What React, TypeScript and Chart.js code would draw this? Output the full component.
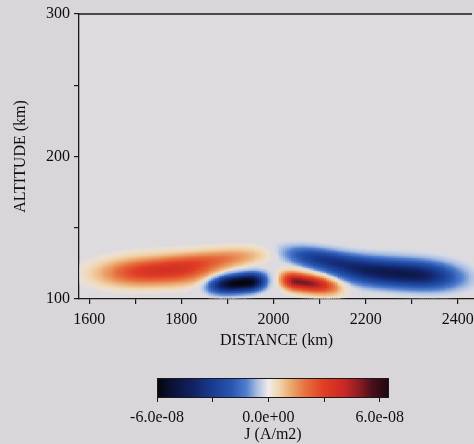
import React, { useEffect, useRef } from 'react';
import { Chart, registerables } from 'chart.js';

Chart.register(...registerables);

// ---- axes ----
const X_RANGE = [1578, 2435];
const Y_RANGE = [100, 300];
const X_TICKS = [1600, 1700, 1800, 1900, 2000, 2100, 2200, 2300, 2400];
const X_LABELED = [1600, 1800, 2000, 2200, 2400];
const Y_TICKS = [100, 150, 200, 250, 300];
const Y_LABELED = [100, 200, 300];
const X_TITLE = 'DISTANCE (km)';
const Y_TITLE = 'ALTITUDE (km)';

// ---- colour bar ----
const CBAR_RANGE = [-6.0e-8, 6.5e-8];
const CBAR_TICKS = [-6e-8, -3e-8, 0, 3e-8, 6e-8];
const CBAR_LABELS = ['-6.0e-08', '', '0.0e+00', '', '6.0e-08'];
const CBAR_TITLE = 'J (A/m2)';

// colour map stops (value in A/m2) and colours
const CMAP_VALUES = [-6.0e-8, -5.0e-8, -4.0e-8, -3.0e-8, -2.0e-8, -1.2e-8, -0.6e-8, 0, 0.6e-8, 1.2e-8, 2.0e-8, 3.0e-8, 4.0e-8, 4.8e-8, 5.6e-8, 6.5e-8];
const CMAP_COLORS = [
  [5, 5, 12], [12, 20, 62], [18, 35, 102], [25, 60, 145], [40, 85, 175], [80, 125, 205], [170, 190, 225],
  [240, 236, 235],
  [240, 212, 172], [236, 168, 112], [230, 112, 62], [224, 62, 36], [204, 42, 36], [150, 30, 36], [72, 16, 26], [30, 6, 16],
];

// ---- current-density patches ----
// centre distance (km), centre altitude (km), half-scale left/right (km), vertical scale (km), peak J (A/m2), tilt (km alt per km dist), shape exponent
const PATCH_DIST = [1755, 1890, 1935, 2058, 2290, 2100];
const PATCH_ALT = [120, 129, 112, 112.5, 118, 129];
const PATCH_WL = [92, 80, 55, 30, 115, 55];
const PATCH_WR = [90, 70, 36, 62, 80, 70];
const PATCH_H = [6.5, 4.5, 4.3, 4.3, 6.5, 4.8];
const PATCH_AMP = [3.4e-8, 1.6e-8, -6.2e-8, 5.2e-8, -4.6e-8, -2.8e-8];
const PATCH_TILT = [0.012, 0.03, 0.025, -0.04, -0.02, -0.05];
const PATCH_POW = [2.5, 2, 3, 3, 2.5, 2];

const GRID_STEP_X = 4;
const GRID_STEP_Y = 0.5;
const GRID_TOP = 150;

const PAGE_BG = '#d9d6d9';
const PLOT_BG = '#dedbde';
const FONT = { family: '"Liberation Serif", "DejaVu Serif", serif', size: 16 };
const TEXT = '#0e0e0e';

function field(d: number, a: number): number {
  let s = 0;
  for (let i = 0; i < PATCH_DIST.length; i++) {
    const dx = d - PATCH_DIST[i];
    const w = dx < 0 ? PATCH_WL[i] : PATCH_WR[i];
    const cy = PATCH_ALT[i] + PATCH_TILT[i] * dx;
    const dy = (a - cy) / PATCH_H[i];
    const u = Math.abs(dx / w);
    s += PATCH_AMP[i] * Math.exp(-0.5 * (Math.pow(u, PATCH_POW[i]) + dy * dy));
  }
  return s;
}

function colorFor(v: number): [number, number, number] {
  if (v <= CMAP_VALUES[0]) return CMAP_COLORS[0] as any;
  const n = CMAP_VALUES.length;
  if (v >= CMAP_VALUES[n - 1]) return CMAP_COLORS[n - 1] as any;
  for (let i = 0; i < n - 1; i++) {
    if (v <= CMAP_VALUES[i + 1]) {
      const t = (v - CMAP_VALUES[i]) / (CMAP_VALUES[i + 1] - CMAP_VALUES[i]);
      const a = CMAP_COLORS[i], b = CMAP_COLORS[i + 1];
      return [a[0] + (b[0] - a[0]) * t, a[1] + (b[1] - a[1]) * t, a[2] + (b[2] - a[2]) * t];
    }
  }
  return CMAP_COLORS[n - 1] as any;
}

const heatmapPlugin = {
  id: 'heatmap',
  beforeDraw(chart: any) {
    const { ctx, chartArea } = chart;
    ctx.save();
    ctx.fillStyle = PAGE_BG;
    ctx.fillRect(0, 0, chart.width, chart.height);
    ctx.fillStyle = PLOT_BG;
    ctx.fillRect(chartArea.left, chartArea.top, chartArea.right - chartArea.left, chartArea.bottom - chartArea.top);
    ctx.restore();
  },
  beforeDatasetsDraw(chart: any) {
    const { ctx, chartArea, scales } = chart;
    const xs = scales.x, ys = scales.y;
    ctx.save();
    ctx.beginPath();
    ctx.rect(chartArea.left, chartArea.top, chartArea.right - chartArea.left, chartArea.bottom - chartArea.top);
    ctx.clip();
    for (let d = X_RANGE[0]; d < X_RANGE[1]; d += GRID_STEP_X) {
      const x0 = xs.getPixelForValue(d);
      const x1 = xs.getPixelForValue(d + GRID_STEP_X);
      for (let a = Y_RANGE[0]; a < GRID_TOP; a += GRID_STEP_Y) {
        const v = field(d + GRID_STEP_X / 2, a + GRID_STEP_Y / 2);
        const m = Math.abs(v);
        const alpha = Math.max(0, Math.min(1, (m - 0.1e-8) / 0.6e-8));
        if (alpha <= 0) continue;
        const c = colorFor(v);
        const y0 = ys.getPixelForValue(a + GRID_STEP_Y);
        const y1 = ys.getPixelForValue(a);
        ctx.fillStyle = `rgba(${Math.round(c[0])},${Math.round(c[1])},${Math.round(c[2])},${alpha})`;
        ctx.fillRect(Math.floor(x0), Math.floor(y0), Math.ceil(x1 - x0) + 1, Math.ceil(y1 - y0) + 1);
      }
    }
    ctx.restore();
  },
  afterDraw(chart: any) {
    const { ctx, chartArea } = chart;
    ctx.save();
    ctx.strokeStyle = '#1a1a1a';
    ctx.lineWidth = 1.3;
    ctx.beginPath();
    ctx.moveTo(chartArea.left, chartArea.top);
    ctx.lineTo(chartArea.right - 2, chartArea.top);
    ctx.stroke();
    ctx.restore();
  },
};

const colorbarPlugin = {
  id: 'colorbar',
  beforeDraw(chart: any) {
    const { ctx, chartArea, scales } = chart;
    const xs = scales.x;
    ctx.save();
    ctx.fillStyle = PAGE_BG;
    ctx.fillRect(0, 0, chart.width, chart.height);
    const g = ctx.createLinearGradient(chartArea.left, 0, chartArea.right, 0);
    const w = chartArea.right - chartArea.left;
    for (let i = 0; i < CMAP_VALUES.length; i++) {
      const p = (xs.getPixelForValue(CMAP_VALUES[i]) - chartArea.left) / w;
      const c = CMAP_COLORS[i];
      g.addColorStop(Math.max(0, Math.min(1, p)), `rgb(${c[0]},${c[1]},${c[2]})`);
    }
    ctx.fillStyle = g;
    ctx.fillRect(chartArea.left, chartArea.top, w, chartArea.bottom - chartArea.top);
    ctx.strokeStyle = '#1a1a1a';
    ctx.lineWidth = 1;
    ctx.strokeRect(chartArea.left + 0.5, chartArea.top + 0.5, w - 1, chartArea.bottom - chartArea.top - 1);
    ctx.restore();
  },
};

export default function App() {
  const mainRef = useRef<HTMLCanvasElement | null>(null);
  const barRef = useRef<HTMLCanvasElement | null>(null);

  useEffect(() => {
    const main = new Chart(mainRef.current as HTMLCanvasElement, {
      type: 'scatter',
      data: { datasets: [] },
      plugins: [heatmapPlugin],
      options: {
        responsive: false,
        animation: false,
        devicePixelRatio: 1,
        layout: { padding: { top: 14, left: 0, right: 0, bottom: 0 } },
        plugins: { legend: { display: false }, tooltip: { enabled: false } },
        scales: {
          x: {
            type: 'linear',
            min: X_RANGE[0],
            max: X_RANGE[1],
            afterBuildTicks: (s: any) => { s.ticks = X_TICKS.map((v) => ({ value: v })); },
            afterFit: (s: any) => { s.height = 52; s.paddingLeft = 0; s.paddingRight = 0; },
            ticks: {
              autoSkip: false,
              maxRotation: 0,
              padding: 6,
              color: TEXT,
              font: FONT,
              callback: (v: any) => (X_LABELED.includes(Number(v)) ? String(v) : ''),
            },
            grid: { drawOnChartArea: false, drawTicks: true, tickLength: 5, color: '#1a1a1a', lineWidth: 1.2 },
            border: { display: true, color: '#1a1a1a', width: 1.3 },
            title: { display: true, text: X_TITLE, color: TEXT, font: FONT, padding: { top: 0, bottom: 1 } },
          },
          y: {
            type: 'linear',
            min: Y_RANGE[0],
            max: Y_RANGE[1],
            afterBuildTicks: (s: any) => { s.ticks = Y_TICKS.map((v) => ({ value: v })); },
            afterFit: (s: any) => { s.width = 79; s.paddingTop = 0; s.paddingBottom = 0; },
            ticks: {
              autoSkip: false,
              padding: 4,
              color: TEXT,
              font: FONT,
              callback: (v: any) => (Y_LABELED.includes(Number(v)) ? String(v) : ''),
            },
            grid: { drawOnChartArea: false, drawTicks: true, tickLength: 5, color: '#1a1a1a', lineWidth: 1.2 },
            border: { display: true, color: '#1a1a1a', width: 1.3 },
            title: { display: true, text: Y_TITLE, color: TEXT, font: FONT, padding: { top: 11, bottom: 0 } },
          },
        },
      },
    } as any);

    const bar = new Chart(barRef.current as HTMLCanvasElement, {
      type: 'scatter',
      data: { datasets: [] },
      plugins: [colorbarPlugin],
      options: {
        responsive: false,
        animation: false,
        devicePixelRatio: 1,
        layout: { padding: { top: 18, left: 157, right: 85, bottom: 0 } },
        plugins: { legend: { display: false }, tooltip: { enabled: false } },
        scales: {
          x: {
            type: 'linear',
            min: CBAR_RANGE[0],
            max: CBAR_RANGE[1],
            afterBuildTicks: (s: any) => { s.ticks = CBAR_TICKS.map((v) => ({ value: v })); },
            afterFit: (s: any) => { s.height = 46; s.paddingLeft = 0; s.paddingRight = 0; },
            ticks: {
              autoSkip: false,
              maxRotation: 0,
              padding: 6,
              color: TEXT,
              font: FONT,
              callback: (_v: any, i: number) => CBAR_LABELS[i] ?? '',
            },
            grid: { drawOnChartArea: false, drawTicks: true, tickLength: 4, color: '#1a1a1a', lineWidth: 1 },
            border: { display: false },
            title: { display: true, text: CBAR_TITLE, color: TEXT, font: FONT, padding: { top: 0, bottom: 0 } },
          },
          y: { display: false, min: 0, max: 1 },
        },
      },
    } as any);

    return () => {
      main.destroy();
      bar.destroy();
    };
  }, []);

  return (
    <div style={{ position: 'fixed', left: 0, top: 0, width: 474, height: 444, background: PAGE_BG, overflow: 'hidden' }}>
      <canvas ref={mainRef} width={474} height={351} style={{ position: 'absolute', left: 0, top: 0, width: 474, height: 351 }} />
      <canvas ref={barRef} width={474} height={84} style={{ position: 'absolute', left: 0, top: 360, width: 474, height: 84 }} />
    </div>
  );
}
